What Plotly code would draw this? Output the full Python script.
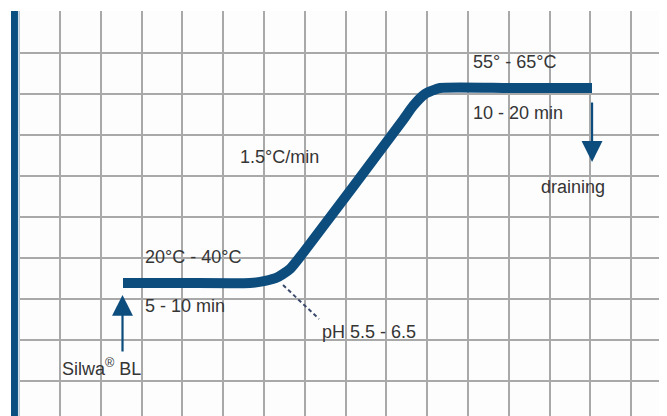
import plotly.graph_objects as go

# Grid units: one grid square = 1 unit (x: time-like, y: temperature-like)
path_x = [1.544, 3.0, 4.657, 5.025, 5.343, 5.637, 5.956, 8.407, 8.652, 8.946, 9.314, 11.0, 13.039]
path_y = [2.390, 2.390, 2.390, 2.439, 2.537, 2.732, 3.122, 6.366, 6.707, 7.000, 7.146, 7.146, 7.146]

ph_x = [5.466, 6.348]
ph_y = [2.341, 1.512]

arrow_up = {"tail": (1.532, 0.683), "tip": (1.532, 2.098)}
arrow_down = {"tail": (13.04, 6.829), "tip": (13.04, 5.341)}

label_texts = ["20°C - 40°C", "5 - 10 min", "Silwa<sup>®</sup> BL", "pH 5.5 - 6.5",
               "1.5°C/min", "55° - 65°C", "10 - 20 min", "draining"]
label_x = [2.034, 2.034, 0.0, 6.373, 4.363, 10.074, 10.074, 11.740]
label_y = [3.024, 1.829, 0.341, 1.195, 5.463, 7.780, 6.537, 4.732]

BLUE = "#0d4d7e"
TEXT = "#353535"

fig = go.Figure()
fig.add_trace(go.Scatter(x=path_x, y=path_y, mode="lines",
                         line=dict(color=BLUE, width=10, shape="spline", smoothing=0.5),
                         hoverinfo="skip", showlegend=False))
fig.add_trace(go.Scatter(x=ph_x, y=ph_y, mode="lines",
                         line=dict(color="#3b4a6b", width=2, dash="4px,3px"),
                         hoverinfo="skip", showlegend=False))

annotations = []
for t, x, y in zip(label_texts, label_x, label_y):
    annotations.append(dict(x=x, y=y, xref="x", yref="y", text=t, showarrow=False,
                            xanchor="left", yanchor="middle",
                            font=dict(family="Liberation Sans, Arial, sans-serif", size=18, color=TEXT)))
for a in (arrow_up, arrow_down):
    annotations.append(dict(x=a["tip"][0], y=a["tip"][1], ax=a["tail"][0], ay=a["tail"][1],
                            xref="x", yref="y", axref="x", ayref="y", text="",
                            showarrow=True, arrowhead=2, arrowsize=1.9, arrowwidth=2.2,
                            arrowcolor=BLUE, standoff=0, startstandoff=0))

shapes = [
    dict(type="rect", xref="x", yref="paper", x0=-1.201, x1=-1.03, y0=0, y1=1.0,
         fillcolor="#0b4f80", line=dict(width=0), layer="above"),
    dict(type="rect", xref="x", yref="paper", x0=-1.03, x1=-0.99, y0=0, y1=1.0,
         fillcolor="#c9dded", line=dict(width=0), layer="above"),
]

fig.update_layout(
    width=659, height=408,
    margin=dict(l=3, r=0, t=3, b=0),
    paper_bgcolor="white", plot_bgcolor="#fdfdfd",
    xaxis=dict(range=[-1.201, 14.877], tick0=0, dtick=1, showgrid=True,
               gridcolor="#a9a9a9", gridwidth=1.6, zeroline=False,
               showticklabels=False, ticks="", showline=False, fixedrange=True),
    yaxis=dict(range=[-0.854, 9.024], tick0=0, dtick=1, showgrid=True,
               gridcolor="#a9a9a9", gridwidth=1.6, zeroline=False,
               showticklabels=False, ticks="", showline=False, fixedrange=True),
    annotations=annotations, shapes=shapes, showlegend=False,
)

fig.write_html("out.html")
